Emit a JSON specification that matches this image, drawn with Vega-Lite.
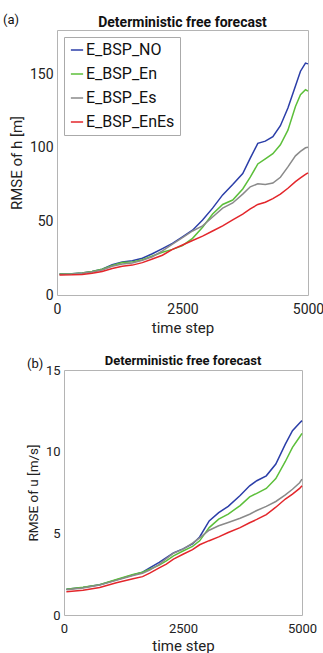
{
  "$schema": "https://vega.github.io/schema/vega-lite/v6.json",
  "padding": {"left": 3, "top": 13, "right": 0, "bottom": 0},
  "background": "white",
  "config": {
    "font": "Roboto",
    "view": {"stroke": "#b4b4b4", "strokeWidth": 1},
    "axis": {"grid": false, "ticks": false, "domain": false, "labelColor": "#222222", "titleColor": "#222222", "titleFontWeight": "normal", "labelFlush": false, "labelFont": "Roboto", "titleFont": "Roboto"},
    "title": {"color": "#111111", "font": "Roboto"}
  },
  "datasets": {
    "h": [
      {"t": 50, "s": "E_BSP_NO", "v": 14.2}, {"t": 300, "s": "E_BSP_NO", "v": 14.4}, {"t": 500, "s": "E_BSP_NO", "v": 15.0}, {"t": 700, "s": "E_BSP_NO", "v": 16.0}, {"t": 900, "s": "E_BSP_NO", "v": 17.5}, {"t": 1100, "s": "E_BSP_NO", "v": 20.5}, {"t": 1300, "s": "E_BSP_NO", "v": 22.5}, {"t": 1500, "s": "E_BSP_NO", "v": 23.3}, {"t": 1700, "s": "E_BSP_NO", "v": 25.0}, {"t": 1900, "s": "E_BSP_NO", "v": 28.0}, {"t": 2100, "s": "E_BSP_NO", "v": 31.5}, {"t": 2300, "s": "E_BSP_NO", "v": 35.0}, {"t": 2500, "s": "E_BSP_NO", "v": 39.5}, {"t": 2700, "s": "E_BSP_NO", "v": 44.0}, {"t": 2900, "s": "E_BSP_NO", "v": 51.0}, {"t": 3100, "s": "E_BSP_NO", "v": 59.0}, {"t": 3300, "s": "E_BSP_NO", "v": 68.0}, {"t": 3500, "s": "E_BSP_NO", "v": 75.0}, {"t": 3700, "s": "E_BSP_NO", "v": 82.5}, {"t": 3850, "s": "E_BSP_NO", "v": 93.0}, {"t": 4000, "s": "E_BSP_NO", "v": 103.0}, {"t": 4150, "s": "E_BSP_NO", "v": 104.5}, {"t": 4300, "s": "E_BSP_NO", "v": 107.5}, {"t": 4450, "s": "E_BSP_NO", "v": 115.0}, {"t": 4600, "s": "E_BSP_NO", "v": 127.0}, {"t": 4750, "s": "E_BSP_NO", "v": 142.0}, {"t": 4850, "s": "E_BSP_NO", "v": 152.0}, {"t": 4950, "s": "E_BSP_NO", "v": 157.5}, {"t": 5000, "s": "E_BSP_NO", "v": 157.0},
      {"t": 50, "s": "E_BSP_En", "v": 14.2}, {"t": 300, "s": "E_BSP_En", "v": 14.4}, {"t": 500, "s": "E_BSP_En", "v": 15.0}, {"t": 700, "s": "E_BSP_En", "v": 16.0}, {"t": 900, "s": "E_BSP_En", "v": 17.5}, {"t": 1100, "s": "E_BSP_En", "v": 20.0}, {"t": 1300, "s": "E_BSP_En", "v": 22.0}, {"t": 1500, "s": "E_BSP_En", "v": 22.5}, {"t": 1700, "s": "E_BSP_En", "v": 24.0}, {"t": 1900, "s": "E_BSP_En", "v": 26.5}, {"t": 2100, "s": "E_BSP_En", "v": 29.0}, {"t": 2300, "s": "E_BSP_En", "v": 31.0}, {"t": 2500, "s": "E_BSP_En", "v": 33.5}, {"t": 2700, "s": "E_BSP_En", "v": 38.5}, {"t": 2900, "s": "E_BSP_En", "v": 46.0}, {"t": 3100, "s": "E_BSP_En", "v": 55.0}, {"t": 3300, "s": "E_BSP_En", "v": 61.5}, {"t": 3500, "s": "E_BSP_En", "v": 64.5}, {"t": 3700, "s": "E_BSP_En", "v": 72.0}, {"t": 3850, "s": "E_BSP_En", "v": 80.0}, {"t": 4000, "s": "E_BSP_En", "v": 89.0}, {"t": 4150, "s": "E_BSP_En", "v": 92.5}, {"t": 4300, "s": "E_BSP_En", "v": 96.0}, {"t": 4450, "s": "E_BSP_En", "v": 102.0}, {"t": 4600, "s": "E_BSP_En", "v": 112.0}, {"t": 4750, "s": "E_BSP_En", "v": 128.0}, {"t": 4850, "s": "E_BSP_En", "v": 136.0}, {"t": 4950, "s": "E_BSP_En", "v": 139.5}, {"t": 5000, "s": "E_BSP_En", "v": 138.5},
      {"t": 50, "s": "E_BSP_Es", "v": 14.0}, {"t": 300, "s": "E_BSP_Es", "v": 14.2}, {"t": 500, "s": "E_BSP_Es", "v": 14.8}, {"t": 700, "s": "E_BSP_Es", "v": 15.7}, {"t": 900, "s": "E_BSP_Es", "v": 17.0}, {"t": 1100, "s": "E_BSP_Es", "v": 19.5}, {"t": 1300, "s": "E_BSP_Es", "v": 21.0}, {"t": 1500, "s": "E_BSP_Es", "v": 21.8}, {"t": 1700, "s": "E_BSP_Es", "v": 23.5}, {"t": 1900, "s": "E_BSP_Es", "v": 26.0}, {"t": 2100, "s": "E_BSP_Es", "v": 30.0}, {"t": 2300, "s": "E_BSP_Es", "v": 34.5}, {"t": 2500, "s": "E_BSP_Es", "v": 39.0}, {"t": 2700, "s": "E_BSP_Es", "v": 43.5}, {"t": 2900, "s": "E_BSP_Es", "v": 47.0}, {"t": 3100, "s": "E_BSP_Es", "v": 53.0}, {"t": 3300, "s": "E_BSP_Es", "v": 59.0}, {"t": 3500, "s": "E_BSP_Es", "v": 62.5}, {"t": 3700, "s": "E_BSP_Es", "v": 68.5}, {"t": 3850, "s": "E_BSP_Es", "v": 73.5}, {"t": 4000, "s": "E_BSP_Es", "v": 75.5}, {"t": 4150, "s": "E_BSP_Es", "v": 75.0}, {"t": 4300, "s": "E_BSP_Es", "v": 76.0}, {"t": 4450, "s": "E_BSP_Es", "v": 80.0}, {"t": 4600, "s": "E_BSP_Es", "v": 87.0}, {"t": 4750, "s": "E_BSP_Es", "v": 94.5}, {"t": 4850, "s": "E_BSP_Es", "v": 97.5}, {"t": 4950, "s": "E_BSP_Es", "v": 100.0}, {"t": 5000, "s": "E_BSP_Es", "v": 100.3},
      {"t": 50, "s": "E_BSP_EnEs", "v": 13.6}, {"t": 300, "s": "E_BSP_EnEs", "v": 13.7}, {"t": 500, "s": "E_BSP_EnEs", "v": 14.0}, {"t": 700, "s": "E_BSP_EnEs", "v": 14.8}, {"t": 900, "s": "E_BSP_EnEs", "v": 16.0}, {"t": 1100, "s": "E_BSP_EnEs", "v": 18.0}, {"t": 1300, "s": "E_BSP_EnEs", "v": 19.5}, {"t": 1500, "s": "E_BSP_EnEs", "v": 20.3}, {"t": 1700, "s": "E_BSP_EnEs", "v": 22.0}, {"t": 1900, "s": "E_BSP_EnEs", "v": 24.5}, {"t": 2100, "s": "E_BSP_EnEs", "v": 27.0}, {"t": 2300, "s": "E_BSP_EnEs", "v": 31.0}, {"t": 2500, "s": "E_BSP_EnEs", "v": 34.0}, {"t": 2700, "s": "E_BSP_EnEs", "v": 37.0}, {"t": 2900, "s": "E_BSP_EnEs", "v": 40.0}, {"t": 3100, "s": "E_BSP_EnEs", "v": 43.5}, {"t": 3300, "s": "E_BSP_EnEs", "v": 47.0}, {"t": 3500, "s": "E_BSP_EnEs", "v": 51.0}, {"t": 3700, "s": "E_BSP_EnEs", "v": 55.0}, {"t": 3850, "s": "E_BSP_EnEs", "v": 58.5}, {"t": 4000, "s": "E_BSP_EnEs", "v": 61.5}, {"t": 4150, "s": "E_BSP_EnEs", "v": 63.0}, {"t": 4300, "s": "E_BSP_EnEs", "v": 65.5}, {"t": 4450, "s": "E_BSP_EnEs", "v": 68.5}, {"t": 4600, "s": "E_BSP_EnEs", "v": 72.5}, {"t": 4750, "s": "E_BSP_EnEs", "v": 77.0}, {"t": 4850, "s": "E_BSP_EnEs", "v": 79.5}, {"t": 4950, "s": "E_BSP_EnEs", "v": 82.0}, {"t": 5000, "s": "E_BSP_EnEs", "v": 83.0}
    ],
    "u": [
      {"t": 50, "s": "E_BSP_NO", "v": 1.57}, {"t": 400, "s": "E_BSP_NO", "v": 1.68}, {"t": 750, "s": "E_BSP_NO", "v": 1.85}, {"t": 1100, "s": "E_BSP_NO", "v": 2.15}, {"t": 1450, "s": "E_BSP_NO", "v": 2.45}, {"t": 1650, "s": "E_BSP_NO", "v": 2.62}, {"t": 1800, "s": "E_BSP_NO", "v": 2.88}, {"t": 2000, "s": "E_BSP_NO", "v": 3.22}, {"t": 2150, "s": "E_BSP_NO", "v": 3.52}, {"t": 2300, "s": "E_BSP_NO", "v": 3.80}, {"t": 2500, "s": "E_BSP_NO", "v": 4.05}, {"t": 2700, "s": "E_BSP_NO", "v": 4.35}, {"t": 2850, "s": "E_BSP_NO", "v": 4.78}, {"t": 3050, "s": "E_BSP_NO", "v": 5.76}, {"t": 3250, "s": "E_BSP_NO", "v": 6.27}, {"t": 3450, "s": "E_BSP_NO", "v": 6.65}, {"t": 3700, "s": "E_BSP_NO", "v": 7.32}, {"t": 3900, "s": "E_BSP_NO", "v": 7.91}, {"t": 4050, "s": "E_BSP_NO", "v": 8.22}, {"t": 4250, "s": "E_BSP_NO", "v": 8.52}, {"t": 4450, "s": "E_BSP_NO", "v": 9.24}, {"t": 4650, "s": "E_BSP_NO", "v": 10.46}, {"t": 4800, "s": "E_BSP_NO", "v": 11.28}, {"t": 4950, "s": "E_BSP_NO", "v": 11.75}, {"t": 5000, "s": "E_BSP_NO", "v": 11.9},
      {"t": 50, "s": "E_BSP_En", "v": 1.58}, {"t": 400, "s": "E_BSP_En", "v": 1.70}, {"t": 750, "s": "E_BSP_En", "v": 1.86}, {"t": 1100, "s": "E_BSP_En", "v": 2.17}, {"t": 1450, "s": "E_BSP_En", "v": 2.48}, {"t": 1650, "s": "E_BSP_En", "v": 2.62}, {"t": 1800, "s": "E_BSP_En", "v": 2.80}, {"t": 2000, "s": "E_BSP_En", "v": 3.05}, {"t": 2150, "s": "E_BSP_En", "v": 3.31}, {"t": 2300, "s": "E_BSP_En", "v": 3.62}, {"t": 2500, "s": "E_BSP_En", "v": 3.92}, {"t": 2700, "s": "E_BSP_En", "v": 4.20}, {"t": 2850, "s": "E_BSP_En", "v": 4.54}, {"t": 3050, "s": "E_BSP_En", "v": 5.35}, {"t": 3250, "s": "E_BSP_En", "v": 5.87}, {"t": 3450, "s": "E_BSP_En", "v": 6.18}, {"t": 3700, "s": "E_BSP_En", "v": 6.70}, {"t": 3900, "s": "E_BSP_En", "v": 7.23}, {"t": 4050, "s": "E_BSP_En", "v": 7.45}, {"t": 4250, "s": "E_BSP_En", "v": 7.75}, {"t": 4450, "s": "E_BSP_En", "v": 8.35}, {"t": 4650, "s": "E_BSP_En", "v": 9.40}, {"t": 4800, "s": "E_BSP_En", "v": 10.26}, {"t": 4950, "s": "E_BSP_En", "v": 10.90}, {"t": 5000, "s": "E_BSP_En", "v": 11.12},
      {"t": 50, "s": "E_BSP_Es", "v": 1.55}, {"t": 400, "s": "E_BSP_Es", "v": 1.66}, {"t": 750, "s": "E_BSP_Es", "v": 1.83}, {"t": 1100, "s": "E_BSP_Es", "v": 2.12}, {"t": 1450, "s": "E_BSP_Es", "v": 2.42}, {"t": 1650, "s": "E_BSP_Es", "v": 2.55}, {"t": 1800, "s": "E_BSP_Es", "v": 2.75}, {"t": 2000, "s": "E_BSP_Es", "v": 3.10}, {"t": 2150, "s": "E_BSP_Es", "v": 3.45}, {"t": 2300, "s": "E_BSP_Es", "v": 3.78}, {"t": 2500, "s": "E_BSP_Es", "v": 4.03}, {"t": 2700, "s": "E_BSP_Es", "v": 4.40}, {"t": 2850, "s": "E_BSP_Es", "v": 4.72}, {"t": 3050, "s": "E_BSP_Es", "v": 5.19}, {"t": 3250, "s": "E_BSP_Es", "v": 5.46}, {"t": 3450, "s": "E_BSP_Es", "v": 5.66}, {"t": 3700, "s": "E_BSP_Es", "v": 5.92}, {"t": 3900, "s": "E_BSP_Es", "v": 6.17}, {"t": 4050, "s": "E_BSP_Es", "v": 6.40}, {"t": 4250, "s": "E_BSP_Es", "v": 6.65}, {"t": 4450, "s": "E_BSP_Es", "v": 6.95}, {"t": 4650, "s": "E_BSP_Es", "v": 7.35}, {"t": 4800, "s": "E_BSP_Es", "v": 7.70}, {"t": 4950, "s": "E_BSP_Es", "v": 8.10}, {"t": 5000, "s": "E_BSP_Es", "v": 8.32},
      {"t": 50, "s": "E_BSP_EnEs", "v": 1.42}, {"t": 400, "s": "E_BSP_EnEs", "v": 1.52}, {"t": 750, "s": "E_BSP_EnEs", "v": 1.68}, {"t": 1100, "s": "E_BSP_EnEs", "v": 1.98}, {"t": 1450, "s": "E_BSP_EnEs", "v": 2.22}, {"t": 1650, "s": "E_BSP_EnEs", "v": 2.35}, {"t": 1800, "s": "E_BSP_EnEs", "v": 2.56}, {"t": 2000, "s": "E_BSP_EnEs", "v": 2.88}, {"t": 2150, "s": "E_BSP_EnEs", "v": 3.12}, {"t": 2300, "s": "E_BSP_EnEs", "v": 3.42}, {"t": 2500, "s": "E_BSP_EnEs", "v": 3.72}, {"t": 2700, "s": "E_BSP_EnEs", "v": 4.00}, {"t": 2850, "s": "E_BSP_EnEs", "v": 4.30}, {"t": 3050, "s": "E_BSP_EnEs", "v": 4.55}, {"t": 3250, "s": "E_BSP_EnEs", "v": 4.78}, {"t": 3450, "s": "E_BSP_EnEs", "v": 5.05}, {"t": 3700, "s": "E_BSP_EnEs", "v": 5.35}, {"t": 3900, "s": "E_BSP_EnEs", "v": 5.65}, {"t": 4050, "s": "E_BSP_EnEs", "v": 5.85}, {"t": 4250, "s": "E_BSP_EnEs", "v": 6.15}, {"t": 4450, "s": "E_BSP_EnEs", "v": 6.60}, {"t": 4650, "s": "E_BSP_EnEs", "v": 7.10}, {"t": 4800, "s": "E_BSP_EnEs", "v": 7.40}, {"t": 4950, "s": "E_BSP_EnEs", "v": 7.75}, {"t": 5000, "s": "E_BSP_EnEs", "v": 7.92}
    ]
  },
  "spacing": 18,
  "vconcat": [
    {
      "title": {"text": "(a)", "anchor": "start", "frame": "bounds", "dx": 0, "offset": -11, "fontSize": 13, "fontWeight": "normal"},
      "spacing": 0,
      "resolve": {"scale": {"color": "independent"}, "legend": {"color": "independent"}},
      "hconcat": [
        {"width": 5, "height": 265, "data": {"values": []}, "mark": {"type": "point", "opacity": 0}, "encoding": {}, "view": {"stroke": null}},
        {
          "width": 251,
          "height": 265,
          "data": {"name": "h"},
          "title": {"text": "Deterministic free forecast", "anchor": "middle", "frame": "group", "fontSize": 14, "fontWeight": "bold", "offset": 0},
          "mark": {"type": "line", "strokeWidth": 1.5},
          "encoding": {
            "x": {"field": "t", "type": "quantitative", "scale": {"domain": [0, 5000], "nice": false}, "axis": {"values": [0, 2500, 5000], "format": "d", "title": "time step", "labelFontSize": 14, "titleFontSize": 15, "labelPadding": 7, "titlePadding": 4}},
            "y": {"field": "v", "type": "quantitative", "scale": {"domain": [0, 180], "nice": false}, "axis": {"values": [0, 50, 100, 150], "title": "RMSE of h  [m]", "labelFontSize": 14, "titleFontSize": 15, "labelPadding": 4, "titlePadding": 5}},
            "color": {"field": "s", "type": "nominal", "scale": {"domain": ["E_BSP_NO", "E_BSP_En", "E_BSP_Es", "E_BSP_EnEs"], "range": ["#2b3ea8", "#5cbf3a", "#8a8a8a", "#e3262b"]}, "legend": {"title": null, "orient": "top-left", "offset": 7, "symbolType": "stroke", "symbolSize": 150, "symbolStrokeWidth": 1.5, "labelFontSize": 16, "labelOffset": 1, "rowPadding": 8, "padding": 5, "strokeColor": "#aaaaaa", "fillColor": "white", "labelColor": "#111111"}}
          }
        }
      ]
    },
    {
      "title": {"text": "(b)", "anchor": "start", "frame": "bounds", "dx": 24, "offset": -16, "fontSize": 13, "fontWeight": "normal"},
      "spacing": 0,
      "hconcat": [
        {"width": 22, "height": 245, "data": {"values": []}, "mark": {"type": "point", "opacity": 0}, "encoding": {}, "view": {"stroke": null}},
        {
          "width": 238,
          "height": 245,
          "data": {"name": "u"},
          "title": {"text": "Deterministic free forecast", "anchor": "middle", "frame": "group", "fontSize": 13, "fontWeight": "bold", "offset": -4},
          "mark": {"type": "line", "strokeWidth": 1.5},
          "encoding": {
            "x": {"field": "t", "type": "quantitative", "scale": {"domain": [0, 5000], "nice": false}, "axis": {"values": [0, 2500, 5000], "format": "d", "title": "time step", "labelFontSize": 13, "titleFontSize": 15, "labelPadding": 7, "titlePadding": 3}},
            "y": {"field": "v", "type": "quantitative", "scale": {"domain": [0, 15], "nice": false}, "axis": {"values": [0, 5, 10, 15], "title": "RMSE of u  [m/s]", "labelFontSize": 13, "titleFontSize": 13.5, "labelPadding": 4, "titlePadding": 5}},
            "color": {"field": "s", "type": "nominal", "scale": {"domain": ["E_BSP_NO", "E_BSP_En", "E_BSP_Es", "E_BSP_EnEs"], "range": ["#2b3ea8", "#5cbf3a", "#8a8a8a", "#e3262b"]}, "legend": null}
          }
        }
      ]
    }
  ]
}
